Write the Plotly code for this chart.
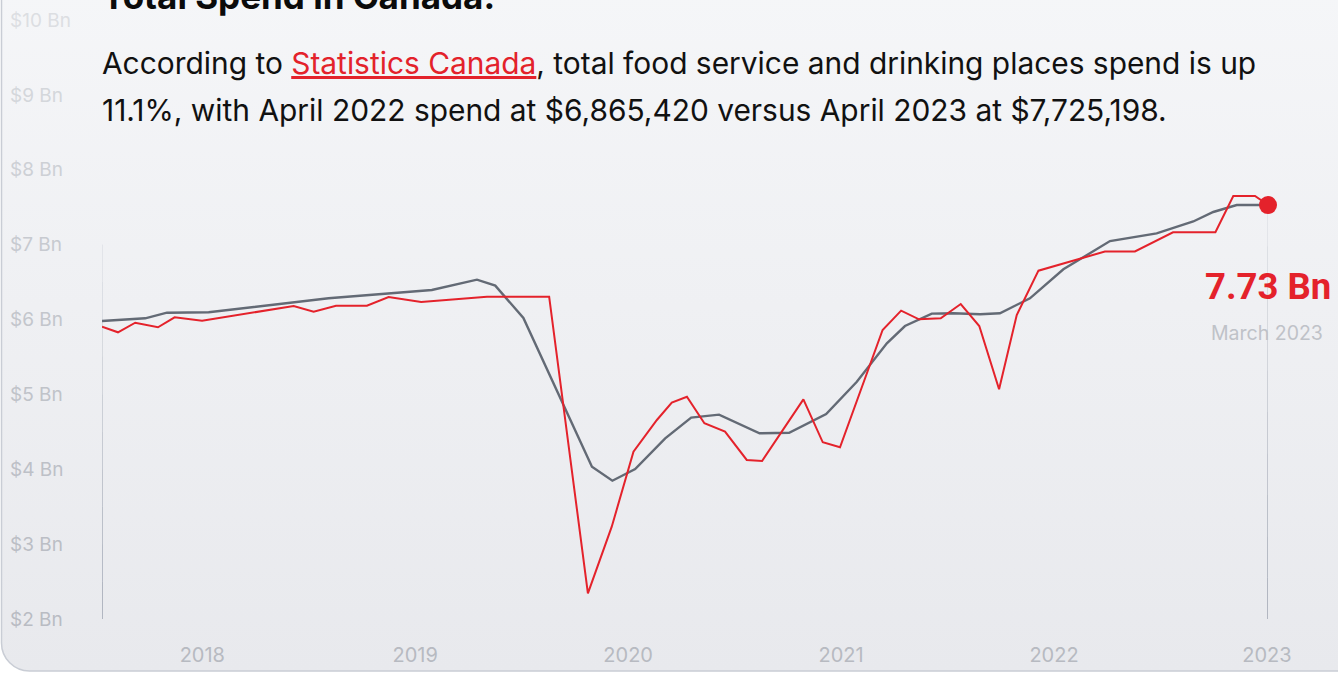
import base64
import plotly.graph_objects as go

# ---------------- data ----------------
red_x = [2017.529, 2017.604, 2017.685, 2017.792, 2017.870, 2017.999, 2018.429, 2018.523,
         2018.628, 2018.773, 2018.875, 2019.028, 2019.337, 2019.629, 2019.811, 2019.923,
         2020.025, 2020.135, 2020.205, 2020.276, 2020.358, 2020.455, 2020.557, 2020.629,
         2020.823, 2020.914, 2020.995, 2021.195, 2021.282, 2021.366, 2021.468, 2021.562,
         2021.649, 2021.742, 2021.825, 2021.927, 2022.239, 2022.380, 2022.559, 2022.758,
         2022.842, 2022.944, 2023.005]
red_y = [5.904, 5.829, 5.957, 5.896, 6.029, 5.984, 6.180, 6.104,
         6.184, 6.184, 6.300, 6.234, 6.305, 6.305, 2.343, 3.233,
         4.234, 4.658, 4.889, 4.969, 4.614, 4.502, 4.124, 4.110,
         4.934, 4.360, 4.293, 5.860, 6.118, 6.003, 6.016, 6.207,
         5.913, 5.068, 6.060, 6.652, 6.908, 6.908, 7.165, 7.165,
         7.649, 7.649, 7.529]

gray_x = [2017.529, 2017.732, 2017.834, 2018.030, 2018.593, 2019.078, 2019.290, 2019.376,
          2019.508, 2019.830, 2019.926, 2020.033, 2020.174, 2020.296, 2020.427, 2020.617,
          2020.756, 2020.930, 2021.074, 2021.215, 2021.300, 2021.426, 2021.527, 2021.653,
          2021.746, 2021.887, 2022.044, 2022.263, 2022.482, 2022.654, 2022.748, 2022.858,
          2023.005]
gray_y = [5.980, 6.016, 6.091, 6.096, 6.283, 6.394, 6.532, 6.452,
          6.020, 4.034, 3.847, 4.003, 4.413, 4.689, 4.729, 4.480,
          4.488, 4.738, 5.169, 5.682, 5.913, 6.078, 6.083, 6.070,
          6.083, 6.283, 6.670, 7.048, 7.151, 7.309, 7.436, 7.529,
          7.529]

year_ticks = [2018, 2019, 2020, 2021, 2022, 2023]
year_labels = ["2018", "2019", "2020", "2021", "2022", "2023"]
y_ticks = [2, 3, 4, 5, 6, 7, 8, 9, 10]
y_labels = ["$2 Bn", "$3 Bn", "$4 Bn", "$5 Bn", "$6 Bn", "$7 Bn", "$8 Bn", "$9 Bn", "$10 Bn"]
y_label_colors = ["#b9bcc3", "#bbbec5", "#bdc0c7", "#c0c3c9", "#c3c6cc", "#c7cad0",
                  "#cdd0d5", "#d4d7db", "#dcdee2"]

title_text = "Total Spend in Canada."
sub_line1 = ("According to <span style='color:#e3222b'><u>Statistics Canada</u></span>, "
             "total food service and drinking places spend is up")
sub_line2 = "11.1%, with April 2022 spend at $6,865,420 versus April 2023 at $7,725,198."
end_value_label = "7.73 Bn"
end_date_label = "March 2023"

# ---------------- layout helpers ----------------
W, H = 1338, 673
L, R, T, B = 6, 70, 20, 54
PW, PH = W - L - R, H - T - B


def pxx(p):
    return (p - L) / PW


def pxy(p):
    return 1 - (p - T) / PH


RED = "#e4222b"
GRAY = "#636a75"
FONT = "Inter"

svg = f"""<svg xmlns='http://www.w3.org/2000/svg' width='{W}' height='{H}' viewBox='0 0 {W} {H}'>
<defs><linearGradient id='g' x1='0' y1='0' x2='0' y2='1'>
<stop offset='0' stop-color='#f6f7f9'/><stop offset='1' stop-color='#e8e9ed'/></linearGradient></defs>
<rect width='{W}' height='{H}' fill='#ffffff'/>
<rect x='1.5' y='-60' width='{W + 100}' height='{H + 58}' rx='28' ry='28' fill='url(#g)' stroke='#c9cdd5' stroke-width='1.5'/>
</svg>"""
svg_uri = "data:image/svg+xml;base64," + base64.b64encode(svg.encode()).decode()

fig = go.Figure()
fig.add_trace(go.Scatter(x=gray_x, y=gray_y, mode="lines",
                         line=dict(color=GRAY, width=2.4), hoverinfo="skip"))
fig.add_trace(go.Scatter(x=red_x, y=red_y, mode="lines",
                         line=dict(color=RED, width=2), hoverinfo="skip"))
fig.add_trace(go.Scatter(x=[red_x[-1]], y=[red_y[-1]], mode="markers",
                         marker=dict(color=RED, size=18), cliponaxis=False, hoverinfo="skip"))

# vertical guide lines (gradient imitation: segments getting darker downward)
shapes = []
ymin = y_ticks[0]
left_top = 7.0
right_top = red_y[-1]
nseg = 10
for i in range(nseg):
    a = 0.15 + 0.85 * (i + 1) / nseg
    y0 = left_top - (left_top - ymin) * i / nseg
    y1 = left_top - (left_top - ymin) * (i + 1) / nseg
    shapes.append(dict(type="line", xref="x", yref="y", x0=red_x[0], x1=red_x[0], y0=y0, y1=y1,
                       line=dict(color=f"rgba(122,130,148,{a:.2f})", width=1), layer="below"))
    y0 = right_top - (right_top - ymin) * i / nseg
    y1 = right_top - (right_top - ymin) * (i + 1) / nseg
    shapes.append(dict(type="line", xref="x", yref="y", x0=red_x[-1], x1=red_x[-1], y0=y0, y1=y1,
                       line=dict(color=f"rgba(122,130,148,{a:.2f})", width=1), layer="below"))

annotations = [
    dict(text=f"<b>{title_text}</b>", x=pxx(100), y=pxy(-4), xref="paper", yref="paper",
         xanchor="left", yanchor="middle", showarrow=False,
         font=dict(family=FONT, size=35, color="#0b0b0b")),
    dict(text=sub_line1, x=pxx(100), y=pxy(63), xref="paper", yref="paper",
         xanchor="left", yanchor="middle", showarrow=False,
         font=dict(family=FONT, size=29.9, color="#111111")),
    dict(text=sub_line2, x=pxx(100), y=pxy(110), xref="paper", yref="paper",
         xanchor="left", yanchor="middle", showarrow=False,
         font=dict(family=FONT, size=29.9, color="#111111")),
    dict(text=f"<b>{end_value_label}</b>", x=pxx(1333), y=pxy(286), xref="paper", yref="paper",
         xanchor="right", yanchor="middle", showarrow=False,
         font=dict(family="Roboto", size=36.5, color=RED)),
    dict(text=end_date_label, x=pxx(1325), y=pxy(333), xref="paper", yref="paper",
         xanchor="right", yanchor="middle", showarrow=False,
         font=dict(family=FONT, size=19.5, color="#bfc2c8")),
]

fig.update_layout(
    width=W, height=H,
    margin=dict(l=L, r=R, t=T, b=B, pad=0),
    paper_bgcolor="#ffffff",
    plot_bgcolor="rgba(0,0,0,0)",
    showlegend=False,
    images=[dict(source=svg_uri, xref="paper", yref="paper", x=pxx(0), y=pxy(0),
                 sizex=W / PW, sizey=H / PH, xanchor="left", yanchor="top",
                 sizing="stretch", layer="below")],
    shapes=shapes,
    annotations=annotations,
    xaxis=dict(domain=[pxx(102), 1], range=[red_x[0], red_x[-1]],
               tickvals=year_ticks, ticktext=year_labels, ticks="",
               showgrid=False, zeroline=False, showline=False,
               tickfont=dict(family=FONT, size=20, color="#b7bac1"),
               ticklabelstandoff=22, fixedrange=True),
    yaxis=dict(anchor="free", position=0, range=[y_ticks[0], y_ticks[-1]],
               tickvals=y_ticks,
               ticktext=[f"<span style='color:{c}'>{t}</span>" for t, c in zip(y_labels, y_label_colors)],
               ticklabelposition="inside", ticklabeloverflow="allow", ticks="",
               showgrid=False, zeroline=False, showline=False,
               tickfont=dict(family=FONT, size=19, color="#bdc0c7"), fixedrange=True),
)

fig.write_html("out.html")
